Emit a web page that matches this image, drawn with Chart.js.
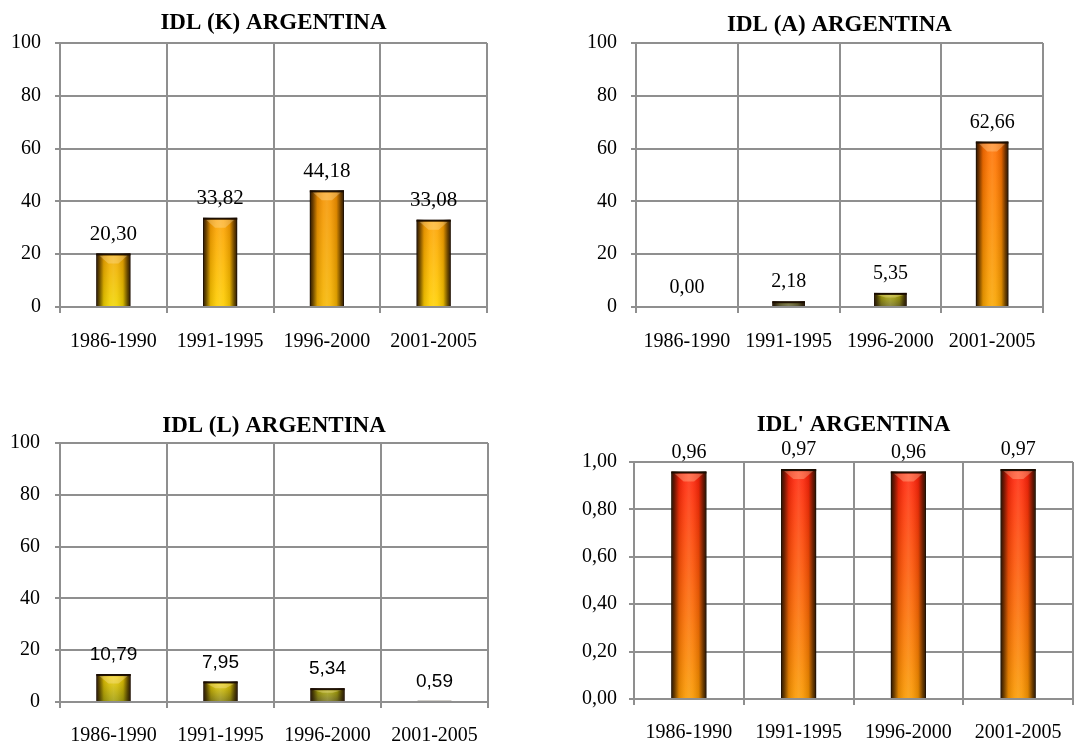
<!DOCTYPE html>
<html><head><meta charset="utf-8">
<script src="https://cdn.jsdelivr.net/npm/chart.js@4.4.1/dist/chart.umd.min.js"></script>
<style>
html,body{margin:0;padding:0;background:#fff;}
#wrap{position:relative;width:1088px;height:746px;overflow:hidden;background:#fff;}
canvas{position:absolute;left:0;top:0;}
</style></head><body>
<div id="wrap">
<canvas id="c1" width="1088" height="746"></canvas>
<canvas id="c2" width="1088" height="746"></canvas>
<canvas id="c3" width="1088" height="746"></canvas>
<canvas id="c4" width="1088" height="746"></canvas>
</div>
<script>
// ---- data ----
const categories = ['1986-1990', '1991-1995', '1996-2000', '2001-2005'];
const idlK = [20.30, 33.82, 44.18, 33.08];
const idlA = [0.00, 2.18, 5.35, 62.66];
const idlL = [10.79, 7.95, 5.34, 0.59];
const idlPrime = [0.96, 0.97, 0.96, 0.97];
const pctTickLabels = ['0', '20', '40', '60', '80', '100'];
const ratioTickLabels = ['0,00', '0,20', '0,40', '0,60', '0,80', '1,00'];
const titles = ['IDL (K) ARGENTINA', 'IDL (A) ARGENTINA', 'IDL (L) ARGENTINA', "IDL' ARGENTINA"];

// ---- styling helpers ----
const GRID = '#8f8f8f';
const SERIF = 'Liberation Serif';
const ramp = [[0, '#505050'], [0.03, '#807a18'], [0.055, '#b8b400'], [0.08, '#f0d400'],
              [0.13, '#ffd000'], [0.2, '#f0a400'], [0.3, '#ffa200'], [0.44, '#f59000'],
              [0.63, '#ff6a00'], [0.8, '#ff3a10'], [1, '#ff1a0a']];
function hex(c) { return [parseInt(c.slice(1, 3), 16), parseInt(c.slice(3, 5), 16), parseInt(c.slice(5, 7), 16)]; }
function rampColor(t) {
  t = Math.max(0, Math.min(1, t));
  for (let i = 1; i < ramp.length; i++) {
    if (t <= ramp[i][0]) {
      const [t0, c0] = ramp[i - 1], [t1, c1] = ramp[i];
      const f = (t - t0) / (t1 - t0 || 1);
      const a = hex(c0), b = hex(c1);
      return 'rgb(' + a.map((v, k) => Math.round(v + (b[k] - v) * f)).join(',') + ')';
    }
  }
  return ramp[ramp.length - 1][1];
}
function barFill(ctx) {
  const chart = ctx.chart;
  const ys = chart.scales.y;
  if (!ys || !chart.chartArea || ctx.raw === undefined) return '#ccc';
  const n = ctx.raw / ys.max;
  const top = ys.getPixelForValue(ctx.raw), base = ys.getPixelForValue(0);
  if (Math.abs(base - top) < 3) return rampColor(n);
  const g = chart.ctx.createLinearGradient(0, base, 0, top);
  g.addColorStop(0, rampColor(n * 0.4));
  g.addColorStop(1, rampColor(n));
  return g;
}

const bevelPlugin = {
  id: 'bevel',
  afterDatasetsDraw(chart, args, opts) {
    const c = chart.ctx;
    chart.getDatasetMeta(0).data.forEach((el, i) => {
      const w = el.width, left = el.x - w / 2, right = el.x + w / 2;
      const top = Math.min(el.y, el.base), bot = Math.max(el.y, el.base);
      const h = bot - top;
      if (h >= 3) {
        c.save();
        const g = c.createLinearGradient(left, 0, right, 0);
        g.addColorStop(0, 'rgba(30,14,0,0.95)');
        g.addColorStop(0.09, 'rgba(30,14,0,0.65)');
        g.addColorStop(0.22, 'rgba(30,14,0,0.12)');
        g.addColorStop(0.4, 'rgba(255,255,210,0.10)');
        g.addColorStop(0.5, 'rgba(255,255,210,0.16)');
        g.addColorStop(0.6, 'rgba(255,255,210,0.10)');
        g.addColorStop(0.78, 'rgba(30,14,0,0.12)');
        g.addColorStop(0.91, 'rgba(30,14,0,0.65)');
        g.addColorStop(1, 'rgba(30,14,0,0.95)');
        c.fillStyle = g;
        c.fillRect(left, top, w, h);
        if (h > 8) {
          const d = Math.min(10, h * 0.35);
          c.beginPath();
          c.moveTo(left + 3, top + 2);
          c.lineTo(right - 3, top + 2);
          c.lineTo(el.x + w * 0.15, top + d);
          c.lineTo(el.x - w * 0.15, top + d);
          c.closePath();
          c.fillStyle = 'rgba(255,235,190,0.30)';
          c.fill();
        }
        c.fillStyle = 'rgba(25,12,0,0.95)';
        c.fillRect(left, top, w, 2);
        c.restore();
      }
      // value label
      c.save();
      c.font = opts.font;
      c.fillStyle = '#000';
      c.textAlign = 'center';
      c.textBaseline = 'middle';
      const v = chart.data.datasets[0].data[i];
      c.fillText(v.toFixed(2).replace('.', ','), el.x, el.y - opts.offset);
      c.restore();
    });
  }
};

function makeChart(id, title, values, tickLabels, yMax, yStep, area, titleY, yPad, xPad, labelFont) {
  const lh = 23 * 1.2;
  const cfg = {
    type: 'bar',
    data: {
      labels: categories,
      datasets: [{
        data: values,
        backgroundColor: barFill,
        borderColor: '#2a1c06',
        borderWidth: 1,
        barPercentage: 0.32,
        categoryPercentage: 1.0
      }]
    },
    options: {
      responsive: false,
      animation: false,
      events: [],
      layout: { padding: { left: area.l - 60, right: 1088 - area.r, top: 0, bottom: 746 - area.b - 40 } },
      plugins: {
        legend: { display: false },
        tooltip: { enabled: false },
        title: {
          display: true, text: title, fullSize: false, color: '#000',
          font: { family: SERIF, size: 23, weight: 'bold', lineHeight: 1.2 },
          padding: { top: titleY - lh / 2, bottom: area.t - titleY - lh / 2 }
        },
        bevel: { font: labelFont, offset: 19 }
      },
      scales: {
        x: {
          offset: true,
          grid: { offset: true, color: GRID, lineWidth: 2, tickLength: 6, drawTicks: true },
          border: { display: true, color: GRID, width: 2 },
          ticks: { color: '#000', font: { family: SERIF, size: 20 }, padding: xPad, maxRotation: 0, autoSkip: false },
          afterFit(s) { s.height = 40; }
        },
        y: {
          min: 0, max: yMax,
          grid: { color: GRID, lineWidth: 2, tickLength: 5 },
          border: { display: true, color: GRID, width: 2 },
          ticks: {
            stepSize: yStep, color: '#000', font: { family: SERIF, size: 20 }, padding: yPad,
            callback: (v, i) => tickLabels[i]
          },
          afterFit(s) { s.width = 60; }
        }
      }
    },
    plugins: [bevelPlugin]
  };
  return new Chart(document.getElementById(id), cfg);
}

makeChart('c1', titles[0], idlK, pctTickLabels, 100, 20, { l: 60, r: 487, t: 43, b: 307 }, 23, 14, 17, '21px "Liberation Serif"');
makeChart('c2', titles[1], idlA, pctTickLabels, 100, 20, { l: 636, r: 1043, t: 43, b: 307 }, 25, 14, 17, '20px "Liberation Serif"');
makeChart('c3', titles[2], idlL, pctTickLabels, 100, 20, { l: 60, r: 488, t: 443, b: 702 }, 426, 15, 16, '19px "Liberation Sans"');
makeChart('c4', titles[3], idlPrime, ratioTickLabels, 1, 0.2, { l: 634, r: 1073, t: 462, b: 699 }, 425, 12, 16, '20px "Liberation Serif"');
</script>
</body></html>
